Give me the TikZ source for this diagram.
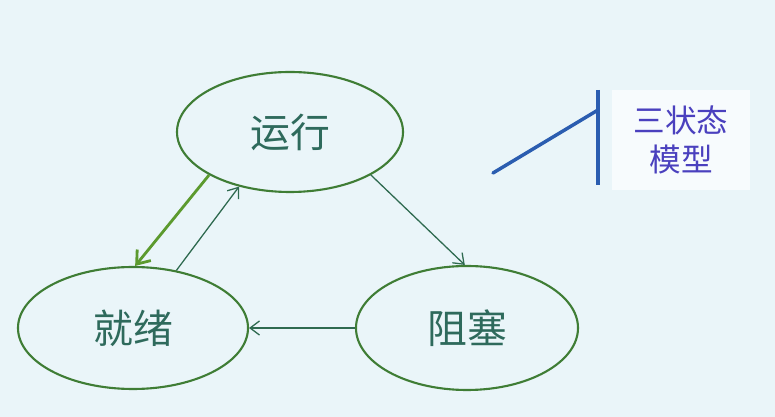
\documentclass[tikz,border=0pt]{standalone}
\usepackage{fontspec}
\newfontfamily\cjk{Noto Sans CJK SC}
\usetikzlibrary{shapes.geometric,arrows.meta}
\definecolor{bgblue}{HTML}{EAF5F9}
\definecolor{stategreen}{HTML}{3F7D35}
\definecolor{fwdgreen}{HTML}{5C9A2E}
\definecolor{thinteal}{HTML}{2F6A50}
\definecolor{labelteal}{HTML}{2E6A5C}
\definecolor{tagblue}{HTML}{2B5DB0}
\definecolor{tagtext}{HTML}{4A40BE}

\begin{document}
\begin{tikzpicture}[x=0.03cm, y=0.03cm,
    state/.style={ellipse, draw=stategreen, line width=1.8pt, inner sep=0pt,
      text=labelteal, font=\cjk\fontsize{34}{40}\selectfont},
    arr/.style={-{Straight Barb[length=8pt,width=12pt]}, thinteal, line width=1.1pt},
    tarr/.style={-{Straight Barb[length=10pt,width=15pt]}, fwdgreen, line width=2.4pt}]
    \fill[bgblue] (0,0) rectangle (775,417);
    \node[state, minimum width=6.78cm, minimum height=3.6cm]  (run)   at (290,285) {运行};
    \node[state, minimum width=6.9cm,  minimum height=3.66cm] (ready) at (133,89)  {就绪};
    \node[state, minimum width=6.66cm, minimum height=3.72cm] (block) at (467,89)  {阻塞};
    \draw[tarr] (run.208)  -- (ready.88);
    \draw[arr]  (ready.53) -- (run.227);
    \draw[arr]  (run.332)  -- (block.92);
    \draw[arr]  (block.west) -- (ready.east);
    % tag on the right
    \node[fill=white!60!bgblue, minimum width=4.14cm, minimum height=3cm, align=center,
      text=tagtext, font=\cjk\fontsize{27}{34}\selectfont] (tag) at (681,277) {三状态\\模型};
    \coordinate (bartop) at (598,327);
    \coordinate (barbot) at (598,232);
    \coordinate (knee)   at (598,307);
    \coordinate (slope)  at (493,244);
    \draw[tagblue, line width=3pt] (bartop) -- (barbot);
    \draw[tagblue, line width=3pt, line cap=round] (slope) -- (knee);
  \end{tikzpicture}
\end{document}
